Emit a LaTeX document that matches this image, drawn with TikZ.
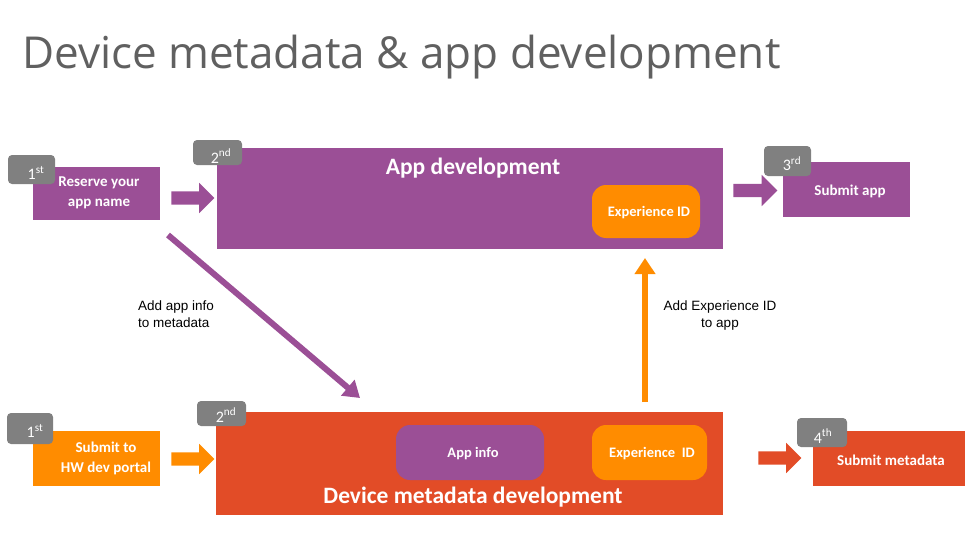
\documentclass[tikz,border=0pt]{standalone}
\usepackage{fontspec}
\setmainfont{Carlito}
\newfontfamily\titlefont{Open Sans}
\newfontfamily\labfont{Liberation Sans}
\usetikzlibrary{shapes.arrows,arrows.meta}
\definecolor{appPurple}{RGB}{155,79,150}
\definecolor{idOrange}{RGB}{255,140,0}
\definecolor{metaRed}{RGB}{226,76,39}
\definecolor{badgeGray}{RGB}{128,128,128}
\definecolor{titleGray}{RGB}{96,96,96}
\tikzset{
  bigbox/.style={rectangle, inner sep=0pt},
  pill/.style={rectangle, rounded corners=14pt, inner sep=0pt},
  badge/.style={rectangle, rounded corners=4pt, fill=badgeGray, inner sep=0pt},
  badgetxt/.style={text=white, font=\fontsize{16}{18}\selectfont, inner sep=0pt},
  boxtxt/.style={text=white, font=\bfseries\fontsize{15}{20}\selectfont, align=center, inner sep=0pt},
  pilltxt/.style={text=white, font=\bfseries\fontsize{14.5}{18}\selectfont, inner sep=0pt},
  headtxt/.style={text=white, font=\bfseries\fontsize{23.5}{28}\selectfont, inner sep=0pt},
  blockarrow/.style={single arrow, fill=#1, inner sep=6.5pt, minimum height=43pt, minimum width=30pt, single arrow head extend=8.5pt},
  labtxt/.style={font=\labfont\fontsize{13.5}{17}\selectfont, inner sep=0pt},
}
\begin{document}
\begin{tikzpicture}[x=1pt,y=-1pt]
\useasboundingbox (0,0) rectangle (979,551);
% title
\node[anchor=base west, inner sep=0pt, text=titleGray, font=\titlefont\fontsize{44}{48}\selectfont] (title) at (22,69) {Device metadata \& app development};

% ---- top row: app ----
\node[bigbox, fill=appPurple, minimum width=506pt, minimum height=101pt] (appdev) at (470,198.5) {};
\node[headtxt] (appdevtxt) at (473,168) {App development};
\node[pill, fill=idOrange, minimum width=108pt, minimum height=53pt] (expidtop) at (646,211.5) {};
\node[pilltxt] at (649,213) {Experience ID};

\node[bigbox, fill=appPurple, minimum width=127pt, minimum height=53pt] (reserve) at (96.5,193.5) {};
\node[boxtxt] (reservetxt) at (99,193) {Reserve your\\app name};

\node[bigbox, fill=appPurple, minimum width=127pt, minimum height=55pt] (submitapp) at (846.5,189.5) {};
\node[boxtxt] (submitapptxt) at (850,191) {Submit app};

\node[blockarrow=appPurple] (arr1) at (189.5,198) {};
\node[blockarrow=appPurple, minimum height=44pt, minimum width=31pt, single arrow head extend=9pt] (arr3) at (752,190.5) {};

\node[badge, minimum width=47pt, minimum height=29pt] (b1top) at (31.5,169.5) {};
\node[badgetxt] at (36,173) {1\textsuperscript{st}};
\node[badge, minimum width=49pt, minimum height=25pt] (b2top) at (217.5,152.5) {};
\node[badgetxt] at (221,156) {2\textsuperscript{nd}};
\node[badge, minimum width=47pt, minimum height=30pt] (b3) at (787.5,161) {};
\node[badgetxt] at (792,164) {3\textsuperscript{rd}};

% ---- bottom row: metadata ----
\node[bigbox, fill=metaRed, minimum width=507pt, minimum height=103pt] (metadev) at (469.5,463.5) {};
\node[headtxt] (metadevtxt) at (473,497) {Device metadata development};
\node[pill, fill=appPurple, minimum width=148pt, minimum height=55pt] (appinfo) at (470,452.5) {};
\node[pilltxt] at (473,454) {App info};
\node[pill, fill=idOrange, minimum width=115pt, minimum height=55pt] (expidbot) at (649.5,452.5) {};
\node[pilltxt] at (652,454) {Experience\ \ ID};

\node[bigbox, fill=idOrange, minimum width=127pt, minimum height=55pt] (hwportal) at (96.5,458.5) {};
\node[boxtxt] (hwportaltxt) at (106,458) {Submit to\\HW dev portal};

\node[bigbox, fill=metaRed, minimum width=152pt, minimum height=55pt] (submitmeta) at (889,458.5) {};
\node[boxtxt] (submitmetatxt) at (891,460) {Submit metadata};

\node[blockarrow=idOrange] (arr2) at (189.5,459) {};
\node[blockarrow=metaRed] (arr4) at (776.5,458) {};

\node[badge, minimum width=46pt, minimum height=31pt] (b1bot) at (30,428.5) {};
\node[badgetxt] at (35,431) {1\textsuperscript{st}};
\node[badge, minimum width=49pt, minimum height=25pt] (b2bot) at (221.5,413.5) {};
\node[badgetxt] at (226,415) {2\textsuperscript{nd}};
\node[badge, minimum width=50pt, minimum height=29pt] (b4) at (822,432.5) {};
\node[badgetxt] at (823,436) {4\textsuperscript{th}};

% ---- connectors ----
\coordinate (dstart) at (168,235);
\coordinate (dend) at (360,398);
\draw[appPurple, line width=6pt, -{Triangle[length=16pt,width=20pt]}] (dstart) -- (dend);
\coordinate (ustart) at (645,402);
\coordinate (uend) at (645,258);
\draw[idOrange, line width=6pt, -{Triangle[length=16pt,width=20pt]}] (ustart) -- (uend);

\node[labtxt, anchor=north west, align=left] (lab1) at (138,301) {Add app info\\to metadata};
\node[labtxt, align=center] (lab2) at (720,316) {Add Experience ID\\to app};
\end{tikzpicture}
\end{document}
